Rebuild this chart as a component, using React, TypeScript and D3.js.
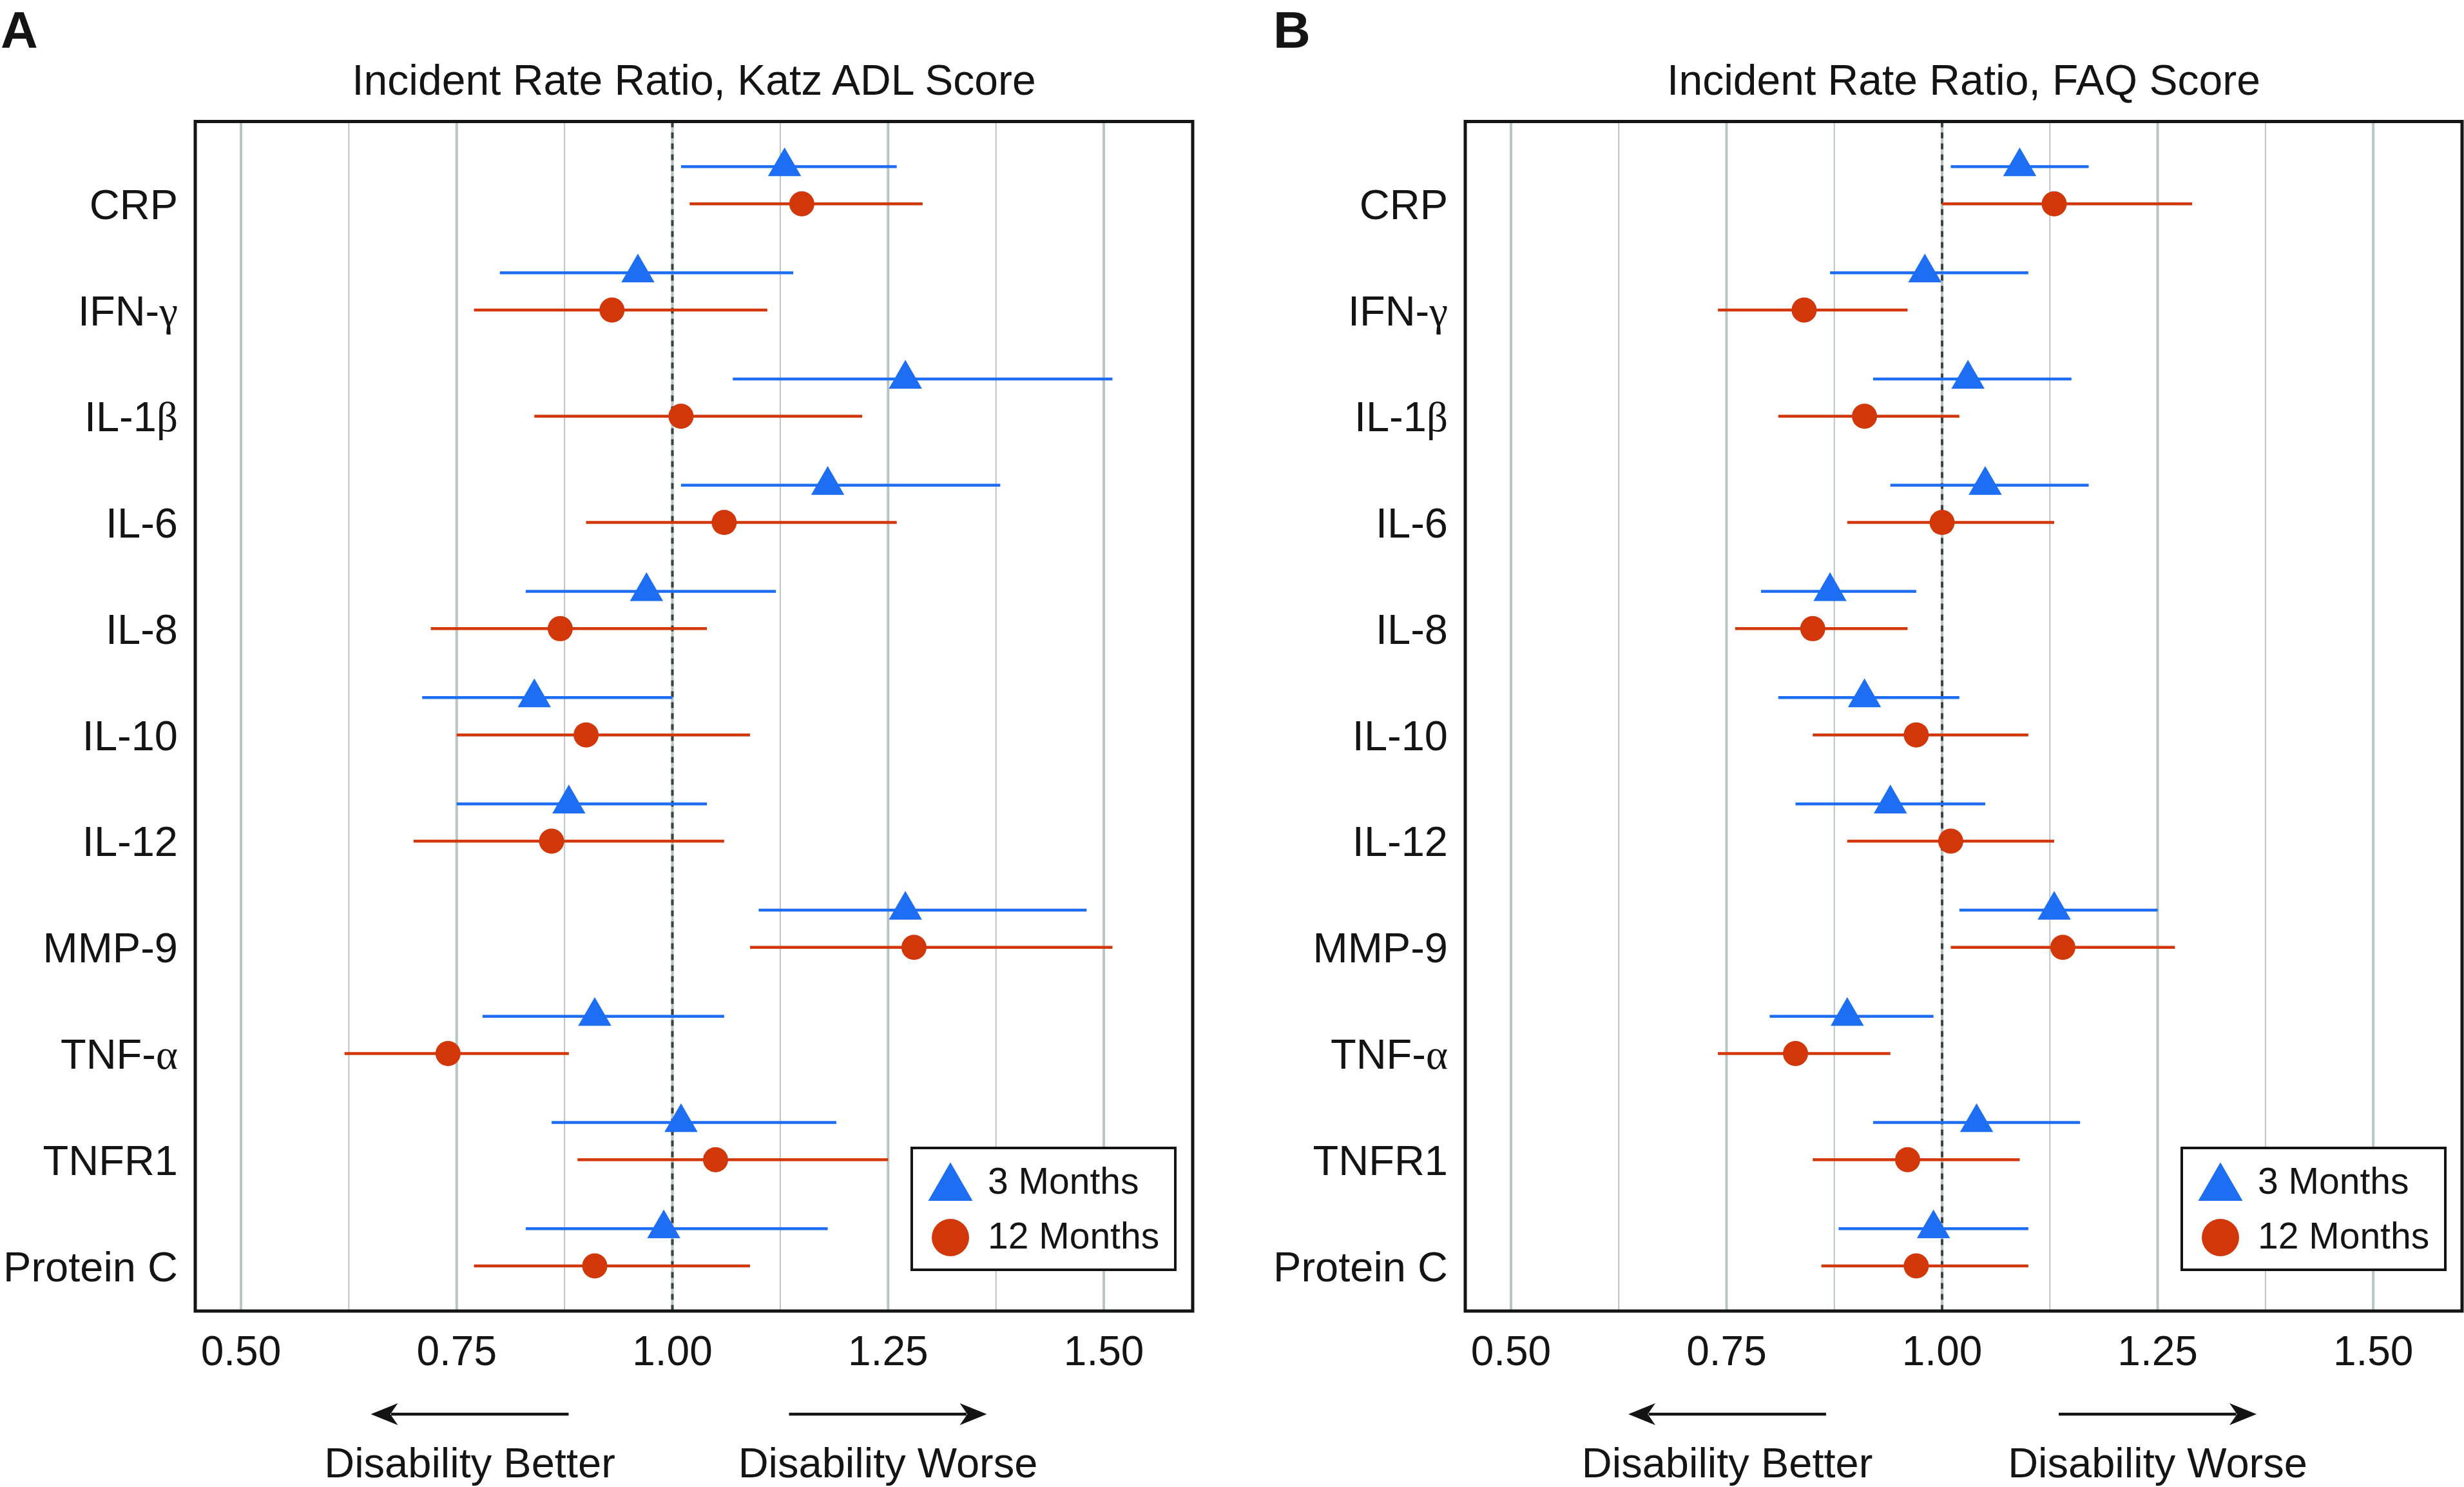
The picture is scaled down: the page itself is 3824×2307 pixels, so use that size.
import React from "react";
import * as d3 from "d3";

const categories = ["CRP", "IFN-γ", "IL-1β", "IL-6", "IL-8", "IL-10", "IL-12", "MMP-9", "TNF-α", "TNFR1", "Protein C"];

const katz3Est = [1.13, 0.96, 1.27, 1.18, 0.97, 0.84, 0.88, 1.27, 0.91, 1.01, 0.99];
const katz3Lo = [1.01, 0.80, 1.07, 1.01, 0.83, 0.71, 0.75, 1.10, 0.78, 0.86, 0.83];
const katz3Hi = [1.26, 1.14, 1.51, 1.38, 1.12, 1.00, 1.04, 1.48, 1.06, 1.19, 1.18];
const katz12Est = [1.15, 0.93, 1.01, 1.06, 0.87, 0.90, 0.86, 1.28, 0.74, 1.05, 0.91];
const katz12Lo = [1.02, 0.77, 0.84, 0.90, 0.72, 0.75, 0.70, 1.09, 0.62, 0.89, 0.77];
const katz12Hi = [1.29, 1.11, 1.22, 1.26, 1.04, 1.09, 1.06, 1.51, 0.88, 1.25, 1.09];

const faq3Est = [1.09, 0.98, 1.03, 1.05, 0.87, 0.91, 0.94, 1.13, 0.89, 1.04, 0.99];
const faq3Lo = [1.01, 0.87, 0.92, 0.94, 0.79, 0.81, 0.83, 1.02, 0.80, 0.92, 0.88];
const faq3Hi = [1.17, 1.10, 1.15, 1.17, 0.97, 1.02, 1.05, 1.25, 0.99, 1.16, 1.10];
const faq12Est = [1.13, 0.84, 0.91, 1.00, 0.85, 0.97, 1.01, 1.14, 0.83, 0.96, 0.97];
const faq12Lo = [1.00, 0.74, 0.81, 0.89, 0.76, 0.85, 0.89, 1.01, 0.74, 0.85, 0.86];
const faq12Hi = [1.29, 0.96, 1.02, 1.13, 0.96, 1.10, 1.13, 1.27, 0.94, 1.09, 1.10];

const majorTicks = [0.5, 0.75, 1.0, 1.25, 1.5];
const minorTicks = [0.625, 0.875, 1.125, 1.375];
const seriesNames = ["3 Months", "12 Months"];
const panelLetters = ["A", "B"];
const panelTitles = ["Incident Rate Ratio, Katz ADL Score", "Incident Rate Ratio, FAQ Score"];
const directionLabels = ["Disability Better", "Disability Worse"];

const BLUE = "#1e6ef4";
const RED = "#d2370a";
const GRID = "#b8c5c2";
const INK = "#141414";
const FONT = "'Liberation Sans', Arial, Helvetica, sans-serif";
const GREEK_FONT = "'Liberation Serif', 'DejaVu Serif', serif";

const W = 3824;
const H = 2307;
const Y0 = 188.5;
const Y1 = 2034;
const PAIR = 28.9;

function Label({ text, x, y, anchor, size }: { text: string; x: number; y: number; anchor: string; size: number }) {
  const parts = text.split(/([α-ω])/).filter((p) => p.length > 0);
  return (
    <text x={x} y={y} textAnchor={anchor} fontSize={size} fontFamily={FONT} fill={INK}>
      {parts.map((p, i) =>
        /[α-ω]/.test(p) ? (
          <tspan key={i} fontFamily={GREEK_FONT}>{p}</tspan>
        ) : (
          <tspan key={i}>{p}</tspan>
        )
      )}
    </text>
  );
}

function Arrow({ from, to, y }: { from: number; to: number; y: number }) {
  const dir = Math.sign(to - from);
  const L = 42;
  const h = 17;
  const head = `M${to},${y} L${to - dir * L},${y - h} L${to - dir * L * 0.72},${y} L${to - dir * L},${y + h} Z`;
  return (
    <g>
      <line x1={from} x2={to - dir * L * 0.75} y1={y} y2={y} stroke={INK} strokeWidth={4.5} />
      <path d={head} fill={INK} />
    </g>
  );
}

function Panel({
  idx, x0, x1, est3, lo3, hi3, est12, lo12, hi12, letterX, leftShift,
}: {
  idx: number; x0: number; x1: number;
  est3: number[]; lo3: number[]; hi3: number[];
  est12: number[]; lo12: number[]; hi12: number[];
  letterX: number; leftShift: number;
}) {
  const x = d3.scaleLinear().domain([0.447, 1.603]).range([x0, x1]);
  const y = d3.scalePoint<string>().domain(categories).range([Y0, Y1]).padding(0.6);
  const tri = d3.symbol().type(d3.symbolTriangle).size(1150)();
  const triLeg = d3.symbol().type(d3.symbolTriangle).size(2060)();
  const one = x(1);
  const legX = x0 + 1112;
  const legY = 1781;

  const rows3 = categories.map((c, i) => ({ c, est: est3[i], lo: lo3[i], hi: hi3[i] }));
  const rows12 = categories.map((c, i) => ({ c, est: est12[i], lo: lo12[i], hi: hi12[i] }));

  const leftTip = one - 487 + leftShift;
  const leftTail = one - 180 + leftShift;
  const rightTail = one + 181;
  const rightTip = one + 488;

  return (
    <g>
      <text x={letterX} y={74} fontSize={80} fontWeight="bold" fontFamily={FONT} fill={INK}>
        {panelLetters[idx]}
      </text>
      <text x={(x0 + x1) / 2} y={147} textAnchor="middle" fontSize={66} fontFamily={FONT} fill={INK}>
        {panelTitles[idx]}
      </text>
      {/* gridlines */}
      {minorTicks.map((t) => (
        <line key={"mi" + t} x1={x(t)} x2={x(t)} y1={Y0} y2={Y1} stroke={GRID} strokeWidth={2} />
      ))}
      {majorTicks.map((t) => (
        <line key={"ma" + t} x1={x(t)} x2={x(t)} y1={Y0} y2={Y1} stroke={GRID} strokeWidth={4} />
      ))}
      <line x1={one} x2={one} y1={Y0} y2={Y1} stroke="#3a4444" strokeWidth={4} strokeDasharray="9,8" />
      {/* category labels */}
      {categories.map((c) => (
        <Label key={c} text={c} x={x0 - 27} y={(y(c) as number) + PAIR + 23.5} anchor="end" size={65} />
      ))}
      {/* 3 months */}
      {rows3.map((r) => {
        const cy = (y(r.c) as number) - PAIR;
        return (
          <g key={"b" + r.c}>
            <line x1={x(r.lo)} x2={x(r.hi)} y1={cy} y2={cy} stroke={BLUE} strokeWidth={4.5} />
            <path d={tri as string} transform={`translate(${x(r.est)},${cy})`} fill={BLUE} />
          </g>
        );
      })}
      {/* 12 months */}
      {rows12.map((r) => {
        const cy = (y(r.c) as number) + PAIR;
        return (
          <g key={"r" + r.c}>
            <line x1={x(r.lo)} x2={x(r.hi)} y1={cy} y2={cy} stroke={RED} strokeWidth={4.5} />
            <circle cx={x(r.est)} cy={cy} r={19.5} fill={RED} />
          </g>
        );
      })}
      {/* frame */}
      <rect x={x0} y={Y0} width={x1 - x0} height={Y1 - Y0} fill="none" stroke={INK} strokeWidth={5} />
      {/* legend */}
      <rect x={legX} y={legY} width={409} height={189} fill="#fff" stroke={INK} strokeWidth={4} />
      <path d={triLeg as string} transform={`translate(${legX + 60},${legY + 62})`} fill={BLUE} />
      <circle cx={legX + 60} cy={legY + 139} r={29} fill={RED} />
      <text x={legX + 118} y={legY + 71} fontSize={57} fontFamily={FONT} fill={INK}>{seriesNames[0]}</text>
      <text x={legX + 118} y={legY + 156} fontSize={57} fontFamily={FONT} fill={INK}>{seriesNames[1]}</text>
      {/* tick labels */}
      {majorTicks.map((t) => (
        <text key={"t" + t} x={x(t)} y={2118} textAnchor="middle" fontSize={64} fontFamily={FONT} fill={INK}>
          {d3.format(".2f")(t)}
        </text>
      ))}
      {/* direction arrows */}
      <Arrow from={leftTail} to={leftTip} y={2194} />
      <Arrow from={rightTail} to={rightTip} y={2194} />
      <text x={(leftTip + leftTail) / 2} y={2292} textAnchor="middle" fontSize={65} fontFamily={FONT} fill={INK}>
        {directionLabels[0]}
      </text>
      <text x={(rightTip + rightTail) / 2} y={2292} textAnchor="middle" fontSize={65} fontFamily={FONT} fill={INK}>
        {directionLabels[1]}
      </text>
    </g>
  );
}

export default function App() {
  return (
    <svg
      width={W}
      height={H}
      viewBox={`0 0 ${W} ${H}`}
      style={{ position: "absolute", left: 0, top: 0, background: "#fff" }}
    >
      <rect x={0} y={0} width={W} height={H} fill="#fff" />
      <Panel idx={0} x0={303} x1={1851} est3={katz3Est} lo3={katz3Lo} hi3={katz3Hi}
        est12={katz12Est} lo12={katz12Lo} hi12={katz12Hi} letterX={1} leftShift={19} />
      <Panel idx={1} x0={2274} x1={3821} est3={faq3Est} lo3={faq3Lo} hi3={faq3Hi}
        est12={faq12Est} lo12={faq12Lo} hi12={faq12Hi} letterX={1976} leftShift={0} />
    </svg>
  );
}
